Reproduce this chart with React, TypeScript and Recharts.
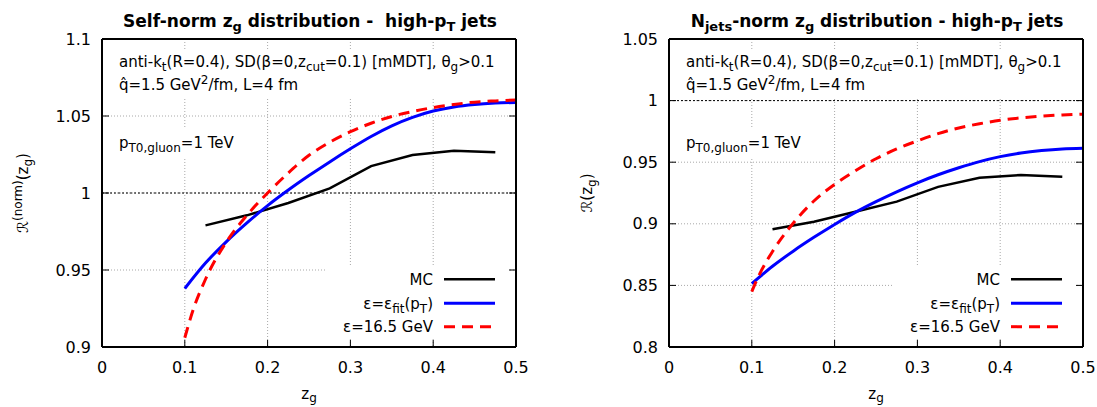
import React from 'react';
import { LineChart, Line, XAxis, YAxis, CartesianGrid, ReferenceLine, Legend } from 'recharts';

const FONT = '"DejaVu Sans", Verdana, sans-serif';

// z_g values (categories)
const zMC = [0.125, 0.175, 0.225, 0.275, 0.325, 0.375, 0.425, 0.475];
const zFit = [0.1, 0.125, 0.15, 0.175, 0.2, 0.225, 0.25, 0.275, 0.3, 0.325, 0.35, 0.375, 0.4, 0.425, 0.45, 0.475, 0.5];
const zFixed = [0.1, 0.11, 0.125, 0.15, 0.175, 0.2, 0.225, 0.25, 0.275, 0.3, 0.325, 0.35, 0.375, 0.4, 0.425, 0.45, 0.475, 0.5];

// tick labels
const X_TICKS = [0, 0.1, 0.2, 0.3, 0.4, 0.5];
const SELF_Y_TICKS = [0.9, 0.95, 1, 1.05, 1.1];
const NJ_Y_TICKS = [0.8, 0.85, 0.9, 0.95, 1, 1.05];

// Self-norm panel
const selfMC = [0.979, 0.9855, 0.9935, 1.003, 1.0175, 1.0247, 1.0275, 1.0264];
const selfFit = [0.938, 0.9545, 0.9683, 0.9806, 0.9918, 1.0019, 1.0113, 1.0202, 1.0287, 1.0367, 1.0436, 1.0491, 1.0532, 1.0559, 1.0575, 1.0584, 1.0588];
const selfFixed = [0.906, 0.924, 0.944, 0.968, 0.9855, 1.0, 1.013, 1.0245, 1.033, 1.0398, 1.0453, 1.0497, 1.0529, 1.0555, 1.0575, 1.059, 1.0598, 1.0604];

// Njets-norm panel
const njMC = [0.8955, 0.9017, 0.9098, 0.918, 0.93, 0.9374, 0.9396, 0.9382];
const njFit = [0.8515, 0.8655, 0.8778, 0.889, 0.8995, 0.9093, 0.918, 0.926, 0.9333, 0.9398, 0.9455, 0.9505, 0.9545, 0.9575, 0.9595, 0.9608, 0.9613];
const njFixed = [0.845, 0.86, 0.8775, 0.9005, 0.9185, 0.932, 0.943, 0.9528, 0.9608, 0.9673, 0.9732, 0.9778, 0.9812, 0.984, 0.986, 0.9874, 0.9884, 0.989];

const pts = (zs: number[], vs: number[]) => zs.map((z, i) => ({ z, v: vs[i] }));
const fmt = (v: number) => String(Number(Number(v).toFixed(2)));

type Seg = [string, number?];
function rich(segs: Seg[], base: number, small: number, off: number) {
  let cur = 0;
  return segs.map(([t, lvl = 0], i) => {
    const target = lvl === -1 ? off : lvl === 1 ? -off * 1.5 : 0;
    const dy = target - cur;
    cur = target;
    return (
      <tspan key={i} dy={dy} fontSize={lvl ? small : base}>
        {t}
      </tspan>
    );
  });
}

const SERIES = [
  { key: 'mc', color: '#000000', width: 2.5, dash: undefined as string | undefined, label: [['MC']] as Seg[] },
  { key: 'fit', color: '#0000ff', width: 3, dash: undefined as string | undefined, label: [['ε=ε'], ['fit', -1], ['(p'], ['T', -1], [')']] as Seg[] },
  { key: 'fixed', color: '#ff0000', width: 3, dash: '11 7', label: [['ε=16.5 GeV']] as Seg[] },
];

function LegendBox() {
  const rows = [12.3, 36.3, 59.7];
  return (
    <svg width={183} height={72} style={{ display: 'block' }} fontFamily={FONT}>
      <rect x={0} y={0} width={183} height={72} fill="#ffffff" />
      {SERIES.map((s, i) => (
        <g key={s.key}>
          <text x={108} y={rows[i] + 5.7} textAnchor="end" fontSize={15} fill="#000">
            {rich(s.label, 15, 12, 4)}
          </text>
          <line x1={119} x2={170} y1={rows[i]} y2={rows[i]} stroke={s.color} strokeWidth={s.width} strokeDasharray={s.dash} />
        </g>
      ))}
    </svg>
  );
}

type PanelProps = {
  left: number;
  width: number;
  mLeft: number;
  mRight: number;
  yDomain: [number, number];
  yTicks: number[];
  mc: number[];
  fit: number[];
  fixed: number[];
  legendLeft: number;
};

function Panel(p: PanelProps) {
  const axisLine = { stroke: '#000', strokeWidth: 2 };
  const tickLine = { stroke: '#000', strokeWidth: 1 };
  const tickStyle = { fill: '#000', fontSize: 16, fontFamily: FONT };
  const noLabel = () => <g />;
  return (
    <div style={{ position: 'absolute', left: p.left, top: 0, width: p.width, height: 407 }}>
      <LineChart width={p.width} height={407} margin={{ top: 29, right: p.mRight, bottom: 30, left: p.mLeft }}>
        <CartesianGrid stroke="#a8a8a8" strokeWidth={1} strokeDasharray="1 2" />
        <XAxis
          xAxisId={0}
          dataKey="z"
          type="number"
          domain={[0, 0.5]}
          ticks={X_TICKS}
          interval={0}
          height={30}
          orientation="bottom"
          axisLine={axisLine}
          tickLine={tickLine}
          tickSize={-7}
          tickMargin={22}
          tick={tickStyle}
          tickFormatter={fmt}
          allowDataOverflow
        />
        <XAxis
          xAxisId="top"
          type="number"
          domain={[0, 0.5]}
          ticks={X_TICKS}
          interval={0}
          height={10}
          orientation="top"
          axisLine={axisLine}
          tickLine={tickLine}
          tickSize={-7}
          tick={noLabel}
          allowDataOverflow
        />
        <YAxis
          yAxisId={0}
          type="number"
          domain={p.yDomain}
          ticks={p.yTicks}
          interval={0}
          width={60}
          axisLine={axisLine}
          tickLine={tickLine}
          tickSize={-7}
          tickMargin={18}
          tick={tickStyle}
          tickFormatter={fmt}
          allowDataOverflow
        />
        <YAxis
          yAxisId="right"
          orientation="right"
          type="number"
          domain={p.yDomain}
          ticks={p.yTicks}
          interval={0}
          width={10}
          axisLine={axisLine}
          tickLine={tickLine}
          tickSize={-7}
          tick={noLabel}
          allowDataOverflow
        />
        <ReferenceLine y={1} xAxisId={0} yAxisId={0} stroke="#000" strokeWidth={1} strokeDasharray="2 2" />
        <Line data={pts(zMC, p.mc)} dataKey="v" type="linear" stroke="#000" strokeWidth={2.5} dot={false} activeDot={false} isAnimationActive={false} />
        <Line data={pts(zFit, p.fit)} dataKey="v" type="monotone" stroke="#0000ff" strokeWidth={3} dot={false} activeDot={false} isAnimationActive={false} />
        <Line data={pts(zFixed, p.fixed)} dataKey="v" type="monotone" stroke="#ff0000" strokeWidth={3} strokeDasharray="11 7" dot={false} activeDot={false} isAnimationActive={false} />
        <Legend
          layout="vertical"
          align="center"
          verticalAlign="middle"
          wrapperStyle={{ left: p.legendLeft, top: 267, width: 183, height: 72 }}
          content={() => <LegendBox />}
        />
      </LineChart>
    </div>
  );
}

function Overlay() {
  const annot1: Seg[] = [['anti-k'], ['t', -1], ['(R=0.4), SD(β=0,z'], ['cut', -1], ['=0.1) [mMDT], θ'], ['g', -1], ['>0.1']];
  const annot2: Seg[] = [['q̂=1.5 GeV'], ['2', 1], ['/fm, L=4 fm']];
  const ptLabel: Seg[] = [['p'], ['T0,gluon', -1], ['=1 TeV']];
  const panels = [
    {
      x0: 102,
      cx: 309,
      title: [['Self-norm z'], ['g', -1], [' distribution -  high-p'], ['T', -1], [' jets']] as Seg[],
      ylab: [['ℛ'], ['(norm)', 1], ['(z'], ['g', -1], [')']] as Seg[],
      ylx: 28,
    },
    {
      x0: 669,
      cx: 876,
      title: [['N'], ['jets', -1], ['-norm z'], ['g', -1], [' distribution - high-p'], ['T', -1], [' jets']] as Seg[],
      ylab: [['ℛ(z'], ['g', -1], [')']] as Seg[],
      ylx: 592,
    },
  ];
  return (
    <svg
      width={1097}
      height={407}
      style={{ position: 'absolute', left: 0, top: 0, pointerEvents: 'none' }}
      fontFamily={FONT}
      fill="#000"
    >
      {panels.map((pn, i) => (
        <g key={i}>
          <text x={pn.cx + 1} y={27} textAnchor="middle" fontWeight="bold" fontSize={17} style={{ whiteSpace: 'pre' }}>
            {rich(pn.title, 17, 13, 4)}
          </text>
          <rect x={pn.x0 + 12} y={51} width={382} height={46} fill="#fff" />
          <text x={pn.x0 + 17} y={66.7} fontSize={15}>
            {rich(annot1, 15, 12, 4)}
          </text>
          <text x={pn.x0 + 17} y={90} fontSize={15}>
            {rich(annot2, 15, 12, 4)}
          </text>
          <rect x={pn.x0 + 12} y={128} width={132} height={29} fill="#fff" />
          <text x={pn.x0 + 17} y={148} fontSize={15}>
            {rich(ptLabel, 15, 12, 4)}
          </text>
          <text x={pn.cx} y={399} textAnchor="middle" fontSize={15}>
            {rich([['z'], ['g', -1]], 15, 12, 3)}
          </text>
          <text x={pn.ylx} y={193} textAnchor="middle" fontSize={15} transform={`rotate(-90 ${pn.ylx} 193)`}>
            {rich(pn.ylab, 15, 12, 4)}
          </text>
        </g>
      ))}
    </svg>
  );
}

export default function App() {
  return (
    <div style={{ position: 'absolute', left: 0, top: 0, width: 1097, height: 407, background: '#fff', overflow: 'hidden' }}>
      <Panel
        left={0}
        width={560}
        mLeft={42}
        mRight={34}
        yDomain={[0.9, 1.1]}
        yTicks={SELF_Y_TICKS}
        mc={selfMC}
        fit={selfFit}
        fixed={selfFixed}
        legendLeft={325}
      />
      <Panel
        left={560}
        width={537}
        mLeft={49}
        mRight={4}
        yDomain={[0.8, 1.05]}
        yTicks={NJ_Y_TICKS}
        mc={njMC}
        fit={njFit}
        fixed={njFixed}
        legendLeft={332}
      />
      <Overlay />
    </div>
  );
}
